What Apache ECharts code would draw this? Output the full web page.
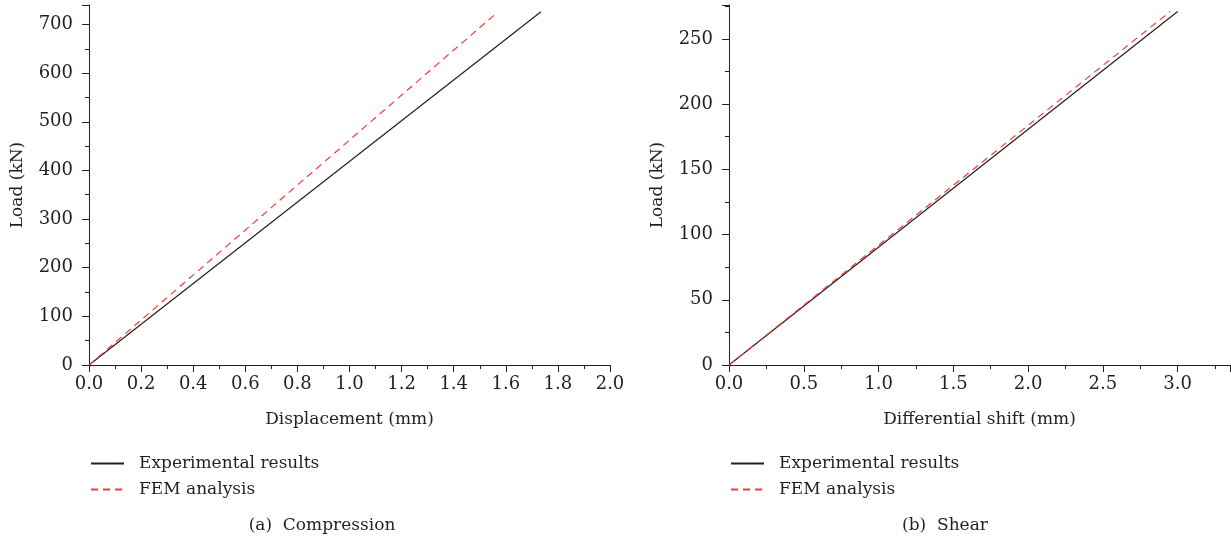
<!DOCTYPE html>
<html>
<head>
<meta charset="utf-8">
<script src="https://cdn.jsdelivr.net/npm/echarts@6/dist/echarts.min.js"></script>
<style>
  html, body { margin: 0; padding: 0; background: #fff; }
  #chart { width: 1231px; height: 544px; }
</style>
</head>
<body>
<div id="chart"></div>
<script>
  // (a) compression: displacement (mm) vs load (kN)
  var compExp = [[0, 0], [1.735, 726]]
  var compFem = [[0, 0], [1.568, 725]]
  // (b) shear: differential shift (mm) vs load (kN)
  var shearExp = [[0, 0], [3.0, 271]]
  var shearFem = [[0, 0], [2.95, 271]]

  var seriesNames = ['Experimental results', 'FEM analysis']
  var captions = ['(a)  Compression', '(b)  Shear']

  var textColor = '#231f20'
  var redColor = '#f23d3d'
  var font = 'DejaVu Serif'

  function axisBase (extra) {
    var a = {
      type: 'value',
      axisLine: { show: true, lineStyle: { color: textColor, width: 1 } },
      axisTick: { show: true, inside: false, length: 7, lineStyle: { color: textColor } },
      minorTick: { show: true, splitNumber: 2, length: 4, lineStyle: { color: textColor } },
      splitLine: { show: false },
      nameTextStyle: { color: textColor, fontFamily: font, fontSize: 17 },
      nameLocation: 'middle'
    }
    return Object.assign(a, extra)
  }

  function labels (extra) {
    return Object.assign({ color: textColor, fontFamily: font, fontSize: 18 }, extra)
  }

  function legendAt (left) {
    return {
      left: left, top: 450, orient: 'vertical', itemWidth: 33, itemHeight: 10, itemGap: 9,
      data: seriesNames,
      itemStyle: { opacity: 0 },
      textStyle: { fontFamily: font, fontSize: 17, color: textColor, padding: [0, 0, 0, 10] }
    }
  }

  var myChart = echarts.init(document.getElementById('chart'))
  myChart.setOption({
    animation: false,
    textStyle: { fontFamily: font },
    title: [
      { text: captions[0], left: 317, top: 512, textAlign: 'center',
        textStyle: { fontFamily: font, fontSize: 17, fontWeight: 'normal', color: textColor } },
      { text: captions[1], left: 940, top: 512, textAlign: 'center',
        textStyle: { fontFamily: font, fontSize: 17, fontWeight: 'normal', color: textColor } }
    ],
    grid: [
      { left: 89, top: 5, width: 521, height: 360 },
      { left: 729, top: 5, width: 501, height: 360 }
    ],
    legend: [legendAt(85), legendAt(725)],
    xAxis: [
      axisBase({ gridIndex: 0, min: 0, max: 2.0, interval: 0.2, name: 'Displacement (mm)', nameGap: 46,
        axisLabel: labels({ margin: 10, formatter: function (v) { return v.toFixed(1) } }) }),
      axisBase({ gridIndex: 1, min: 0, max: 3.35, interval: 0.5, name: 'Differential shift (mm)', nameGap: 46,
        axisLabel: labels({ margin: 10, showMaxLabel: false, formatter: function (v) { return v.toFixed(1) } }) })
    ],
    yAxis: [
      axisBase({ gridIndex: 0, min: 0, max: 740, interval: 100, name: 'Load (kN)', nameGap: 63,
        axisLabel: labels({ margin: 16, showMaxLabel: false }) }),
      axisBase({ gridIndex: 1, min: 0, max: 276, interval: 50, name: 'Load (kN)', nameGap: 63,
        axisLabel: labels({ margin: 16, showMaxLabel: false }) })
    ],
    series: [
      { name: seriesNames[0], type: 'line', xAxisIndex: 0, yAxisIndex: 0, data: compExp,
        symbol: 'none', lineStyle: { color: textColor, width: 1.2 }, itemStyle: { color: textColor } },
      { name: seriesNames[1], type: 'line', xAxisIndex: 0, yAxisIndex: 0, data: compFem,
        symbol: 'none', lineStyle: { color: redColor, width: 1.2, type: [7, 5] }, itemStyle: { color: redColor } },
      { name: seriesNames[0], type: 'line', xAxisIndex: 1, yAxisIndex: 1, data: shearExp,
        symbol: 'none', lineStyle: { color: textColor, width: 1.2 }, itemStyle: { color: textColor } },
      { name: seriesNames[1], type: 'line', xAxisIndex: 1, yAxisIndex: 1, data: shearFem,
        symbol: 'none', lineStyle: { color: redColor, width: 1.2, type: [7, 5] }, itemStyle: { color: redColor } }
    ]
  })
</script>
</body>
</html>
